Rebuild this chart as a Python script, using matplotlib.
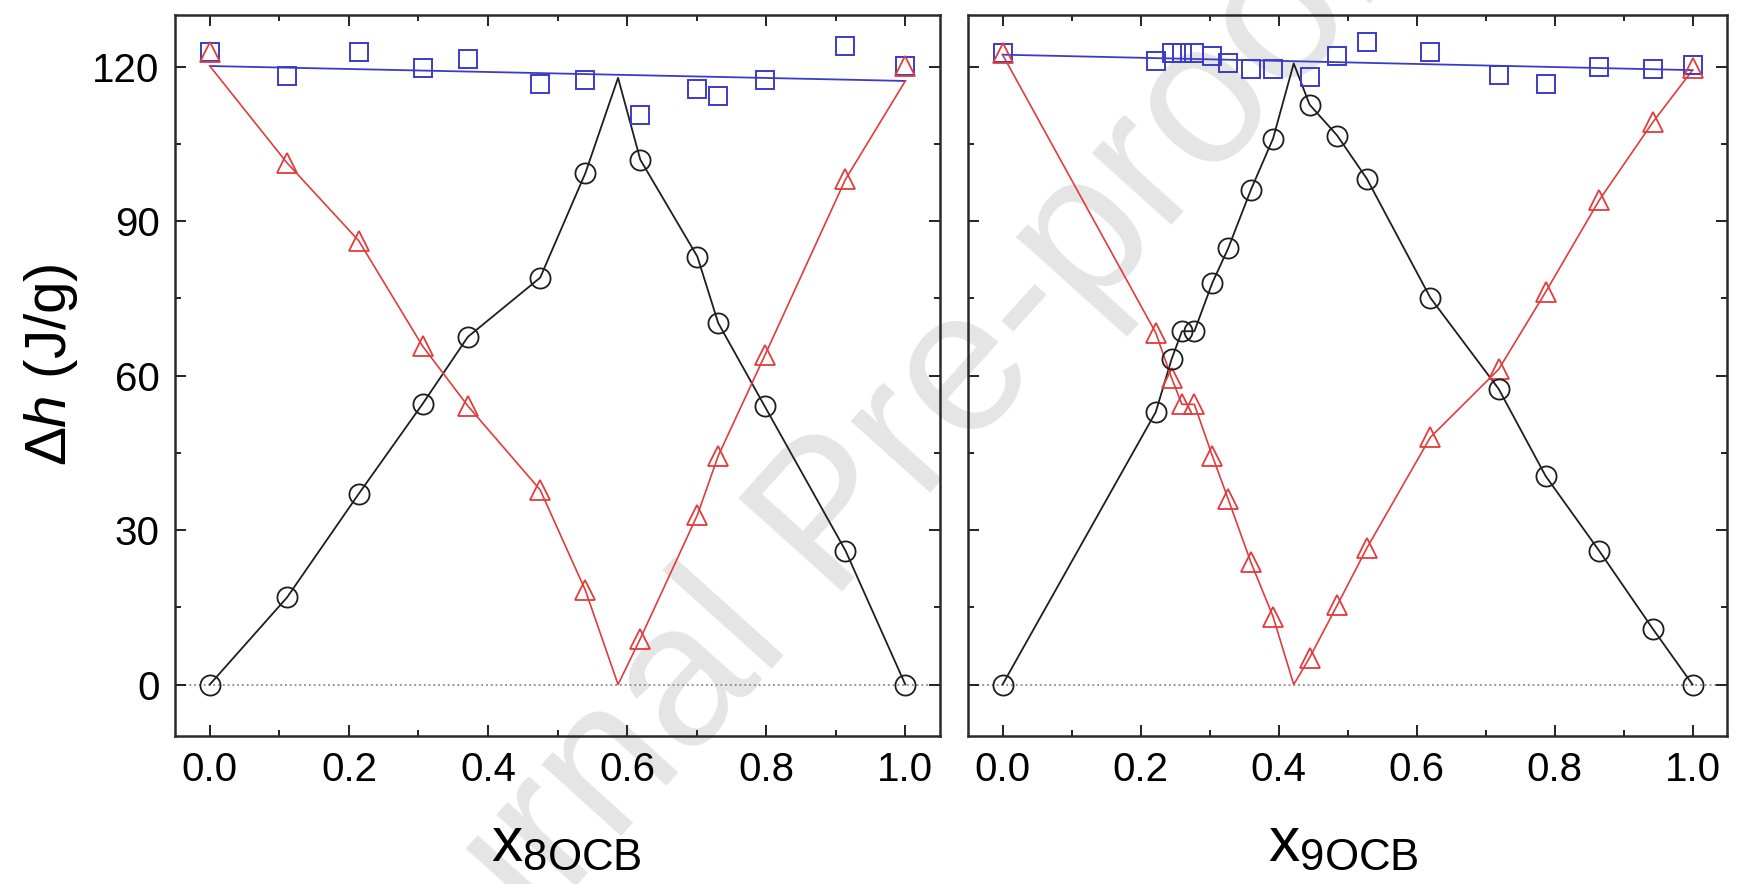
import numpy as np
import matplotlib.pyplot as plt
from matplotlib.ticker import MultipleLocator

plt.rcParams['font.family'] = ['Liberation Sans', 'DejaVu Sans']
plt.rcParams['mathtext.fontset'] = 'custom'
plt.rcParams['mathtext.rm'] = 'Liberation Sans'
plt.rcParams['mathtext.it'] = 'Liberation Sans:italic'

# 8OCB panel
x8 = [0, 0.111, 0.214, 0.306, 0.371, 0.475, 0.540, 0.619, 0.701, 0.731, 0.798, 0.914, 1.0]
circ8 = [0, 16.9, 37.0, 54.5, 67.5, 79.0, 99.3, 101.9, 83.1, 70.2, 54.0, 26.0, 0]
tri8 = [122.9, 101.3, 86.2, 65.7, 54.1, 37.8, 18.3, 8.9, 32.9, 44.4, 63.9, 98.1, 120.1]
sq8 = [122.9, 118.1, 122.8, 119.8, 121.4, 116.6, 117.3, 110.5, 115.7, 114.2, 117.4, 124.0, 120.1]
peak8 = (0.587, 117.8)
blue8_x = [0, 1.0]
blue8_y = [120.1, 117.2]

# 9OCB panel
x9 = [0, 0.222, 0.245, 0.260, 0.278, 0.304, 0.327, 0.360, 0.392, 0.445, 0.485, 0.528,
      0.620, 0.719, 0.787, 0.865, 0.943, 1.0]
circ9 = [0, 52.9, 63.2, 68.6, 68.6, 78.0, 84.7, 96.1, 106.0, 112.6, 106.6, 98.2,
         75.1, 57.4, 40.5, 25.9, 10.7, 0]
tri9 = [122.6, 68.3, 59.5, 54.4, 54.4, 44.4, 36.0, 23.7, 13.2, 5.2, 15.4, 26.5,
        48.0, 61.2, 76.2, 94.1, 109.3, 119.8]
sq9 = [122.6, 121.0, 122.6, 122.6, 122.6, 122.1, 120.6, 119.6, 119.6, 117.9, 122.0, 124.8,
       122.9, 118.4, 116.6, 120.0, 119.6, 120.2]
peak9 = (0.422, 120.6)
blue9_x = [0, 1.0]
blue9_y = [122.3, 119.3]

blue = '#3b3bc8'
red = '#e03c3c'
black = '#1e1e1e'

fig = plt.figure(figsize=(17.38, 8.84), dpi=100)
ax1 = fig.add_axes([0.1007, 0.1674, 0.4402, 0.8156])
ax2 = fig.add_axes([0.557, 0.1674, 0.4367, 0.8156])

# watermark
fig.text(0.48, 0.41, 'Journal Pre-proof', rotation=48, fontsize=146, color='#e5e5e5',
         ha='center', va='center', rotation_mode='anchor', zorder=-1)


def draw(ax, x, circ, tri, sq, peak, bx, by, label, lx):
    x = np.array(x)
    circ = np.array(circ)
    tri = np.array(tri)
    # black goes up to the peak, red down to zero at the same x
    left = x < peak[0]
    kx = np.concatenate([x[left], [peak[0]], x[~left]])
    ky = np.concatenate([circ[left], [peak[1]], circ[~left]])
    rx = np.concatenate([[bx[0]], x[left][1:], [peak[0]], x[~left][:-1], [bx[1]]])
    ry = np.concatenate([[by[0]], tri[left][1:], [0], tri[~left][:-1], [by[1]]])
    ax.axhline(0, color='#8a8a8a', ls=':', lw=1.3, zorder=1)
    ax.plot(bx, by, color=blue, lw=1.3, zorder=2)
    ax.plot(kx, ky, color=black, lw=1.3, zorder=2)
    ax.plot(rx, ry, color=red, lw=1.2, zorder=2)
    ax.plot(x, sq, 's', ms=12.5, mfc='none', mec=blue, mew=1.4, zorder=3)
    ax.plot(x, tri, '^', ms=14.5, mfc='none', mec=red, mew=1.3, zorder=3)
    ax.plot(x, circ, 'o', ms=14.5, mfc='none', mec=black, mew=1.3, zorder=3)

    ax.set_xlim(-0.05, 1.05)
    ax.set_ylim(-10, 130)
    ax.set_facecolor('none')
    ax.xaxis.set_minor_locator(MultipleLocator(0.1))
    ax.yaxis.set_major_locator(MultipleLocator(30))
    ax.yaxis.set_minor_locator(MultipleLocator(15))
    ax.set_xticks([0, 0.2, 0.4, 0.6, 0.8, 1.0], ['0.0', '0.2', '0.4', '0.6', '0.8', '1.0'])
    ax.tick_params(which='both', direction='in', top=True, right=True, width=1.4,
                   labelsize=29, color='#222222')
    ax.tick_params(which='major', length=8, pad=11)
    ax.tick_params(which='minor', length=4.5)
    for s in ax.spines.values():
        s.set_linewidth(1.8)
        s.set_color('#2a2a2a')
    ax.set_xlabel(label, fontsize=45)
    ax.xaxis.set_label_coords(lx, -0.11)


draw(ax1, x8, circ8, tri8, sq8, peak8, blue8_x, blue8_y, r'$\mathregular{x_{8OCB}}$', 0.511)
draw(ax2, x9, circ9, tri9, sq9, peak9, blue9_x, blue9_y, r'$\mathregular{x_{9OCB}}$', 0.494)

ax1.set_ylabel(r'$\Delta\mathit{h}$ (J/g)', fontsize=42)
ax1.yaxis.set_label_coords(-0.124, 0.515)
ax2.tick_params(labelleft=False)

fig.savefig('out.png', dpi=100)
